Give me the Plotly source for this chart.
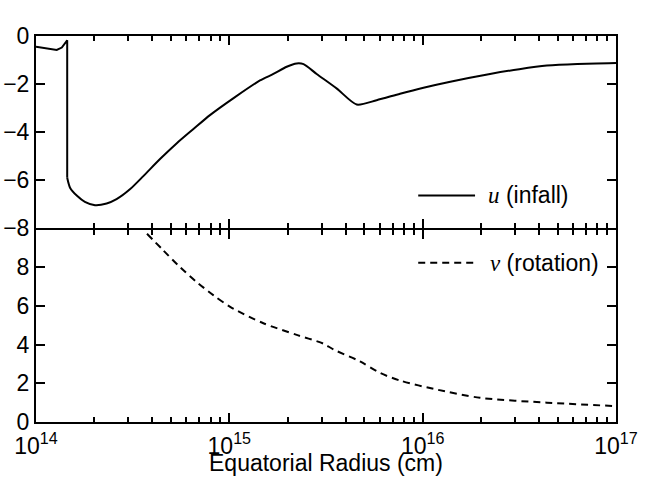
import plotly.graph_objects as go

# ---- data ----
u_radius = [1.0e14, 1.28e14, 1.36e14, 1.45e14, 1.45e14, 1.50e14, 1.63e14, 1.79e14,
            2.02e14, 2.32e14, 2.61e14, 3.06e14, 3.59e14, 4.38e14, 5.35e14, 6.52e14,
            7.94e14, 1.07e15, 1.44e15, 1.69e15, 1.98e15, 2.23e15, 2.42e15, 2.83e15,
            3.60e15, 4.56e15, 5.78e15, 7.64e15, 1.01e16, 1.39e16, 2.23e16, 3.16e16,
            4.39e16, 6.31e16, 1.0e17]
u_infall = [-0.45, -0.58, -0.48, -0.18, -5.90, -6.31, -6.65, -6.90,
            -7.04, -6.97, -6.79, -6.38, -5.83, -5.12, -4.46, -3.87,
            -3.29, -2.54, -1.85, -1.58, -1.28, -1.14, -1.17, -1.58,
            -2.19, -2.85, -2.67, -2.40, -2.15, -1.90, -1.58, -1.38,
            -1.23, -1.16, -1.12]
u_jump_index = 4  # index where the curve lands after the sharp drop

v_radius = [3.75e14, 4.56e14, 5.56e14, 6.78e14, 8.26e14, 1.01e15, 1.50e15, 2.23e15,
            3.06e15, 3.45e15, 4.74e15, 6.03e15, 7.64e15, 1.14e16, 1.98e16, 4.39e16, 1.0e17]
v_rotation = [9.72, 8.86, 8.00, 7.23, 6.55, 5.95, 5.10, 4.50,
              4.05, 3.75, 3.13, 2.53, 2.14, 1.71, 1.25, 1.00, 0.82]

x_major = [1e14, 1e15, 1e16, 1e17]
x_major_text = ["10<sup>14</sup>", "10<sup>15</sup>", "10<sup>16</sup>", "10<sup>17</sup>"]
x_minor = [m * 10 ** e for e in (14, 15, 16) for m in range(2, 10)]
u_ticks = [-8, -6, -4, -2, 0]
v_ticks = [0, 2, 4, 6, 8]
x_title = "Equatorial Radius (cm)"

FONT = "Liberation Sans, Arial, Helvetica, sans-serif"
SIZE = 23
SERIF_I = "<span style=\"font-family:'Liberation Serif',Times,serif;font-style:italic\">%s</span>"

fig = go.Figure()
# part before and including the sharp drop (straight segments)
fig.add_trace(go.Scatter(x=u_radius[:u_jump_index + 1], y=u_infall[:u_jump_index + 1],
                         mode="lines", xaxis="x", yaxis="y",
                         line=dict(color="black", width=2), showlegend=False))
# smooth remainder
fig.add_trace(go.Scatter(x=u_radius[u_jump_index:], y=u_infall[u_jump_index:],
                         mode="lines", xaxis="x", yaxis="y",
                         line=dict(color="black", width=2, shape="spline", smoothing=0.7),
                         showlegend=False))
fig.add_trace(go.Scatter(x=v_radius, y=v_rotation, mode="lines", xaxis="x2", yaxis="y2",
                         line=dict(color="black", width=2, dash="7px,5px", shape="spline",
                                   smoothing=0.8),
                         showlegend=False))

common_x = dict(type="log", range=[14, 17], showline=True, linecolor="black", linewidth=2,
                mirror="ticks", ticks="inside", ticklen=9, tickwidth=1.5, tickcolor="black",
                tickmode="array", tickvals=x_major, ticktext=x_major_text, showgrid=False,
                zeroline=False, automargin=False,
                tickfont=dict(family=FONT, size=SIZE, color="black"),
                minor=dict(tickmode="array", tickvals=x_minor, ticks="inside", ticklen=5,
                           tickwidth=1.5, tickcolor="black", showgrid=False))
common_y = dict(showline=True, linecolor="black", linewidth=2, mirror="ticks",
                ticks="inside", ticklen=9, tickwidth=1.5, tickcolor="black",
                showgrid=False, zeroline=False, tickmode="array", automargin=False,
                tickfont=dict(family=FONT, size=SIZE, color="black"))

fig.update_layout(
    xaxis=dict(common_x, anchor="y", showticklabels=False, matches="x2"),
    xaxis2=dict(common_x, anchor="y2", ticklabelstandoff=2),
    yaxis=dict(common_y, anchor="x", domain=[0.5018, 1.0], range=[-8, 0], tickvals=u_ticks),
    yaxis2=dict(common_y, anchor="x2", domain=[0.0, 0.4966], range=[0, 9.9], tickvals=v_ticks),
)

# x-axis title
fig.add_annotation(xref="x2 domain", yref="paper", x=0.5, y=-0.107, xanchor="center",
                   yanchor="middle", showarrow=False, text=x_title,
                   font=dict(family=FONT, size=SIZE, color="black"))

# legend-like labels
fig.add_shape(type="line", xref="x domain", yref="y domain", x0=0.659, x1=0.757,
              y0=0.171, y1=0.171, line=dict(color="black", width=2))
fig.add_annotation(xref="x domain", yref="y domain", x=0.776, y=0.171, xanchor="left",
                   yanchor="middle", showarrow=False,
                   text=SERIF_I % "u" + " (infall)",
                   font=dict(family=FONT, size=SIZE, color="black"))
fig.add_shape(type="line", xref="x2 domain", yref="y2 domain", x0=0.659, x1=0.757,
              y0=0.831, y1=0.831, line=dict(color="black", width=2, dash="7px,5px"))
fig.add_annotation(xref="x2 domain", yref="y2 domain", x=0.780, y=0.831, xanchor="left",
                   yanchor="middle", showarrow=False,
                   text=SERIF_I % "v" + " (rotation)",
                   font=dict(family=FONT, size=SIZE, color="black"))

fig.update_layout(width=651, height=484, margin=dict(l=36, r=35, t=36, b=62),
                  paper_bgcolor="white", plot_bgcolor="white",
                  font=dict(family=FONT, size=SIZE, color="black"))

fig.write_html("out.html", config={"displayModeBar": False},
               post_script="document.body.style.margin='0px';document.body.style.overflow='hidden';")
